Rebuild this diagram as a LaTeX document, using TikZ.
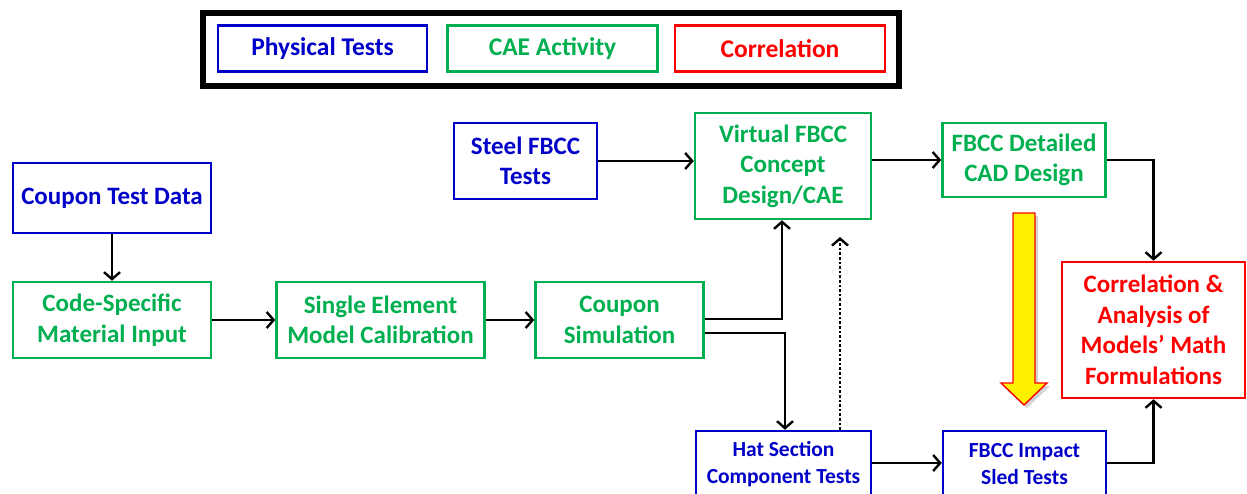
\documentclass[tikz,border=0pt]{standalone}
\usepackage{fontspec}
\setmainfont{Carlito}
\usetikzlibrary{arrows.meta,shadows}
\definecolor{pblue}{RGB}{0,0,200}
\definecolor{cgreen}{RGB}{0,176,80}
\definecolor{cred}{RGB}{255,0,0}
\begin{document}
\begin{tikzpicture}[x=1pt,y=-1pt,
  box/.style={draw,line width=2.5pt,inner sep=0pt,align=center,font=\fontsize{25}{30.5}\selectfont\bfseries},
  phys/.style={box,draw=pblue,text=pblue},
  cae/.style={box,draw=cgreen,text=cgreen},
  corrbox/.style={box,draw=cred,text=cred},
  small/.style={font=\fontsize{21.5}{27}\selectfont\bfseries},
  conn/.style={line width=2.6pt,-{Straight Barb[length=7pt,width=16pt,line width=2.4pt]}},
  ]
\useasboundingbox (0,0) rectangle (1247,494);
\clip (0,0) rectangle (1247,494);
\fill[white] (0,0) rectangle (1247,494);
% legend
\draw[line width=5.5pt] (203,13) rectangle (899,86);
\node[phys,font=\fontsize{25.5}{30}\selectfont\bfseries,minimum width=209pt,minimum height=46pt] (legP) at (322.5,48.5) {Physical Tests};
\node[cae,font=\fontsize{25.5}{30}\selectfont\bfseries,minimum width=210pt,minimum height=46pt] (legC) at (552.5,48.5) {CAE Activity};
\node[corrbox,font=\fontsize{25.5}{30}\selectfont\bfseries,minimum width=210pt,minimum height=46pt] (legR) at (780,48.5) {Correlation};
% boxes
\node[phys,minimum width=198pt,minimum height=70pt] (ctd) at (112,198) {Coupon Test Data};
\node[cae,minimum width=198pt,minimum height=76pt] (csm) at (112,320) {Code-Specific\\Material Input};
\node[cae,minimum width=208pt,minimum height=76pt] (sem) at (380.5,320) {Single Element\\Model Calibration};
\node[cae,minimum width=168pt,minimum height=76pt] (csim) at (619.5,320) {Coupon\\Simulation};
\node[phys,minimum width=143pt,minimum height=76pt] (steel) at (525.5,161) {Steel FBCC\\Tests};
\node[cae,minimum width=176pt,minimum height=106pt] (virt) at (783,166) {Virtual FBCC\\Concept\\Design/CAE};
\node[cae,minimum width=163pt,minimum height=74pt] (cad) at (1024,160) {FBCC Detailed\\CAD Design};
\node[corrbox,minimum width=183pt,minimum height=136pt] (corr) at (1153.5,330) {Correlation \&\\Analysis of\\Models’ Math\\Formulations};
\node[phys,small,minimum width=175pt,minimum height=66pt] (hat) at (783.5,464) {Hat Section\\Component Tests};
\node[phys,small,minimum width=163pt,minimum height=66pt] (sled) at (1024.5,464) {FBCC Impact\\Sled Tests};
% connectors
\draw[conn] (ctd) -- (csm);
\draw[conn] (csm) -- (sem);
\draw[conn] (sem) -- (csim);
\draw[conn] (steel.east) -- (steel.east -| virt.west);
\draw[conn] (virt.east |- cad.west) -- (cad.west);
\draw[conn] (csim.east |- 0,319) -| (782,0 |- virt.south);
\draw[conn] (csim.east |- 0,333) -| (785,0 |- hat.north);
\draw[conn,dotted,line width=2pt] (840,0 |- hat.north) -- (840,237);
\draw[conn] (cad.east) -| (corr.north);
\draw[conn] (hat.east |- 0,463) -- (sled.west |- 0,463);
\draw[conn] (sled.east |- 0,463) -| (corr.south);
% yellow arrow
\fill[yellow,draw=cred,line width=1.4pt,drop shadow={shadow xshift=3pt,shadow yshift=-3pt,opacity=0.35}]
  (1013,213) -- (1035,213) -- (1035,383) -- (1047,383) -- (1024,405) -- (1001,383) -- (1013,383) -- cycle;
\end{tikzpicture}
\end{document}
